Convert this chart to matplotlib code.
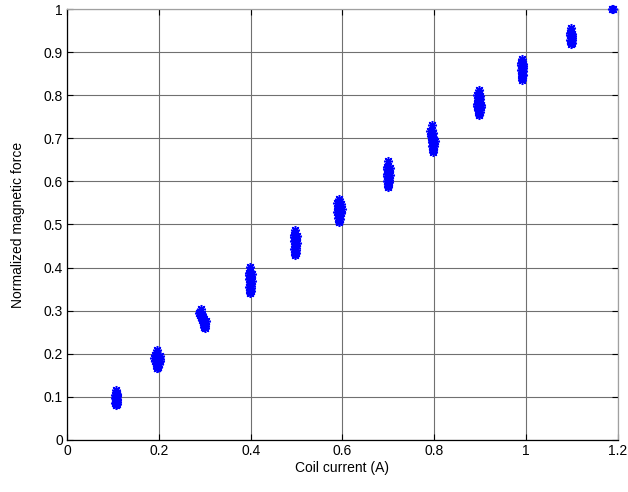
import matplotlib.pyplot as plt

plt.rcParams['font.family'] = ['Liberation Sans', 'DejaVu Sans']

x1 = [0.107, 0.106, 0.108, 0.105, 0.109, 0.106, 0.108, 0.107, 0.105, 0.109, 0.106, 0.108,
      0.107, 0.106, 0.108, 0.107, 0.105, 0.109, 0.107, 0.106]
y1 = [0.117, 0.109, 0.107, 0.105, 0.104, 0.102, 0.101, 0.099, 0.098, 0.096, 0.095, 0.093,
      0.092, 0.090, 0.089, 0.087, 0.086, 0.084, 0.083, 0.081]

x2 = [0.197, 0.196, 0.191, 0.202, 0.193, 0.200, 0.189, 0.203, 0.194, 0.199, 0.191, 0.202,
      0.195, 0.198, 0.193, 0.200, 0.196, 0.197, 0.195, 0.198, 0.196, 0.197]
y2 = [0.209, 0.199, 0.197, 0.195, 0.193, 0.192, 0.190, 0.189, 0.187, 0.186, 0.184, 0.183,
      0.181, 0.180, 0.178, 0.177, 0.175, 0.174, 0.172, 0.170, 0.168, 0.166]

x3 = [0.291, 0.290, 0.287, 0.293, 0.289, 0.294, 0.291, 0.296, 0.293, 0.298, 0.295, 0.302,
      0.297, 0.301, 0.298, 0.300, 0.299, 0.300, 0.299, 0.300]
y3 = [0.305, 0.297, 0.294, 0.292, 0.290, 0.288, 0.286, 0.284, 0.282, 0.280, 0.278, 0.276,
      0.274, 0.272, 0.270, 0.268, 0.266, 0.264, 0.262, 0.259]

x4 = [0.399, 0.399, 0.396, 0.402, 0.397, 0.401, 0.398, 0.400, 0.396, 0.402, 0.398, 0.400,
      0.399, 0.398, 0.401, 0.397, 0.400, 0.399, 0.398, 0.400, 0.399, 0.399]
y4 = [0.401, 0.391, 0.388, 0.385, 0.383, 0.380, 0.378, 0.375, 0.373, 0.370, 0.368, 0.365,
      0.363, 0.360, 0.358, 0.355, 0.353, 0.350, 0.348, 0.346, 0.344, 0.341]

x5 = [0.497, 0.496, 0.494, 0.500, 0.495, 0.499, 0.497, 0.498, 0.494, 0.500, 0.496, 0.499,
      0.497, 0.496, 0.498, 0.495, 0.499, 0.497, 0.496, 0.498, 0.497, 0.497]
y5 = [0.488, 0.479, 0.476, 0.473, 0.471, 0.468, 0.466, 0.463, 0.461, 0.458, 0.456, 0.453,
      0.451, 0.448, 0.446, 0.443, 0.441, 0.438, 0.436, 0.434, 0.431, 0.429]

x6 = [0.593, 0.592, 0.589, 0.596, 0.590, 0.594, 0.591, 0.599, 0.590, 0.595, 0.589, 0.596,
      0.591, 0.594, 0.592, 0.593, 0.591, 0.594, 0.592, 0.593]
y6 = [0.560, 0.552, 0.549, 0.547, 0.544, 0.542, 0.539, 0.537, 0.534, 0.532, 0.529, 0.527,
      0.524, 0.522, 0.519, 0.517, 0.514, 0.512, 0.509, 0.506]

x7 = [0.700, 0.699, 0.697, 0.703, 0.698, 0.702, 0.699, 0.701, 0.697, 0.703, 0.698, 0.701,
      0.700, 0.699, 0.702, 0.698, 0.701, 0.700, 0.699, 0.700, 0.700]
y7 = [0.648, 0.636, 0.633, 0.631, 0.628, 0.626, 0.623, 0.621, 0.618, 0.616, 0.613, 0.611,
      0.608, 0.606, 0.603, 0.601, 0.598, 0.596, 0.593, 0.590, 0.587]

x8 = [0.795, 0.794, 0.791, 0.797, 0.792, 0.796, 0.793, 0.797, 0.794, 0.796, 0.795, 0.801,
      0.796, 0.800, 0.798, 0.796, 0.799, 0.797, 0.798, 0.797, 0.798]
y8 = [0.730, 0.719, 0.716, 0.713, 0.711, 0.708, 0.706, 0.703, 0.701, 0.698, 0.696, 0.693,
      0.691, 0.688, 0.686, 0.683, 0.681, 0.678, 0.675, 0.672, 0.669]

x9 = [0.897, 0.897, 0.894, 0.900, 0.896, 0.899, 0.895, 0.898, 0.896, 0.899, 0.892, 0.902,
      0.893, 0.901, 0.896, 0.898, 0.895, 0.899, 0.897, 0.897, 0.897]
y9 = [0.813, 0.803, 0.800, 0.797, 0.795, 0.792, 0.790, 0.787, 0.785, 0.782, 0.780, 0.777,
      0.775, 0.772, 0.770, 0.767, 0.765, 0.762, 0.760, 0.757, 0.754]

x10 = [0.992, 0.991, 0.988, 0.994, 0.989, 0.993, 0.990, 0.994, 0.989, 0.993, 0.991, 0.992,
       0.990, 0.993, 0.991, 0.992, 0.991, 0.991]
y10 = [0.885, 0.877, 0.874, 0.872, 0.869, 0.867, 0.864, 0.862, 0.859, 0.857, 0.854, 0.852,
       0.849, 0.847, 0.844, 0.842, 0.839, 0.836]

x11 = [1.098, 1.097, 1.095, 1.101, 1.096, 1.100, 1.097, 1.099, 1.096, 1.100, 1.098, 1.097,
       1.099, 1.098]
y11 = [0.955, 0.947, 0.944, 0.942, 0.939, 0.937, 0.934, 0.932, 0.929, 0.927, 0.925, 0.923,
       0.921, 0.919]

x12 = [1.187, 1.190]
y12 = [1.000, 0.999]

xs = [x1, x2, x3, x4, x5, x6, x7, x8, x9, x10, x11, x12]
ys = [y1, y2, y3, y4, y5, y6, y7, y8, y9, y10, y11, y12]

x_ticks = [0, 0.2, 0.4, 0.6, 0.8, 1, 1.2]
x_labels = ['0', '0.2', '0.4', '0.6', '0.8', '1', '1.2']
y_ticks = [0, 0.1, 0.2, 0.3, 0.4, 0.5, 0.6, 0.7, 0.8, 0.9, 1]
y_labels = ['0', '0.1', '0.2', '0.3', '0.4', '0.5', '0.6', '0.7', '0.8', '0.9', '1']

fig = plt.figure(figsize=(6.28, 4.92), dpi=100)
ax = fig.add_axes([0.1067, 0.1057, 0.8773, 0.876])

for xx, yy in zip(xs, ys):
    ax.plot(xx, yy, linestyle='none', marker=(8, 2, 0), markersize=6.5,
            markeredgewidth=1.1, color='#0000ff', clip_on=False, zorder=3)

ax.set_xlim(0, 1.2)
ax.set_ylim(0, 1)
ax.set_xticks(x_ticks)
ax.set_xticklabels(x_labels)
ax.set_yticks(y_ticks)
ax.set_yticklabels(y_labels)

ax.grid(True, color='#707070', linewidth=0.8)
ax.set_axisbelow(True)
ax.tick_params(direction='in', length=4, width=0.8, labelsize=10,
               top=True, right=True, pad=3)
for s in ['left', 'bottom']:
    ax.spines[s].set_color('black')
    ax.spines[s].set_linewidth(0.9)
for s in ['top', 'right']:
    ax.spines[s].set_color('#a0a0a0')
    ax.spines[s].set_linewidth(0.9)

ax.set_xlabel('Coil current (A)', fontsize=10, labelpad=2)
ax.set_ylabel('Normalized magnetic force', fontsize=10, labelpad=13)

fig.savefig('out.png', dpi=100)
